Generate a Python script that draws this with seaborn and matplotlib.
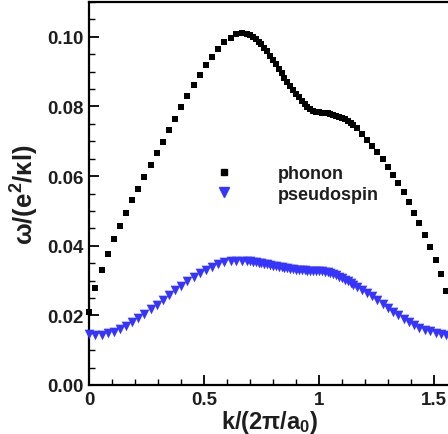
import numpy as np
import pandas as pd
import matplotlib
matplotlib.use("Agg")
import matplotlib.pyplot as plt
import seaborn as sns
from matplotlib.ticker import MultipleLocator, FixedLocator
from matplotlib.lines import Line2D

# ---- data ----
k_values = [
    0.000, 0.027, 0.055, 0.081, 0.109, 0.135, 0.162, 0.188, 0.214, 0.241,
    0.268, 0.294, 0.322, 0.348, 0.374, 0.401, 0.427, 0.455, 0.481, 0.507,
    0.535, 0.562, 0.588, 0.616, 0.640, 0.664, 0.685,
    0.700, 0.7125, 0.725, 0.7375, 0.750, 0.7625, 0.775, 0.7875, 0.800, 0.8125,
    0.825, 0.8375, 0.850, 0.8625, 0.875, 0.8875, 0.900, 0.9125, 0.925, 0.9375,
    0.950, 0.9625, 0.975, 0.9875, 1.000, 1.0125, 1.025, 1.0375, 1.050, 1.0625,
    1.075, 1.0875, 1.100, 1.1125, 1.125, 1.1375, 1.150,
    1.165, 1.187, 1.209, 1.232, 1.254, 1.277, 1.300, 1.323, 1.345, 1.370,
    1.391, 1.413, 1.437, 1.461, 1.484, 1.507, 1.530, 1.552,
]
phonon = [
    0.0211, 0.0278, 0.0331, 0.0376, 0.0419, 0.0457, 0.0494, 0.0530, 0.0563, 0.0597,
    0.0631, 0.0665, 0.0698, 0.0732, 0.0765, 0.0798, 0.0830, 0.0861, 0.0891, 0.0919,
    0.0943, 0.0966, 0.0984, 0.0998, 0.1007, 0.1010, 0.1009,
    0.1005, 0.1000, 0.0993, 0.0986, 0.0978, 0.0969, 0.0959, 0.0946, 0.0933, 0.0921,
    0.0908, 0.0896, 0.0883, 0.0871, 0.0858, 0.0846, 0.0836, 0.0826, 0.0816, 0.0807,
    0.0799, 0.0792, 0.0787, 0.0784, 0.0783, 0.0782, 0.0782, 0.0781, 0.0779, 0.0776,
    0.0773, 0.0770, 0.0767, 0.0764, 0.0759, 0.0753, 0.0746,
    0.0738, 0.0721, 0.0704, 0.0687, 0.0668, 0.0649, 0.0627, 0.0604, 0.0580, 0.0554,
    0.0525, 0.0494, 0.0464, 0.0431, 0.0397, 0.0359, 0.0318, 0.0269,
]
pseudospin = [
    0.0146, 0.0143, 0.0144, 0.0148, 0.0153, 0.0161, 0.0170, 0.0180, 0.0192, 0.0204,
    0.0217, 0.0231, 0.0244, 0.0259, 0.0273, 0.0285, 0.0298, 0.0310, 0.0321, 0.0330,
    0.0340, 0.0348, 0.0353, 0.0356, 0.0357, 0.0357, 0.0356,
    0.0355, 0.0354, 0.0352, 0.0351, 0.0350, 0.0348, 0.0347, 0.0345, 0.0343, 0.0341,
    0.0340, 0.0338, 0.0336, 0.0335, 0.0333, 0.0332, 0.0331, 0.0330, 0.0329, 0.0329,
    0.0328, 0.0328, 0.0328, 0.0327, 0.0327, 0.0326, 0.0325, 0.0324, 0.0322, 0.0319,
    0.0315, 0.0311, 0.0307, 0.0302, 0.0298, 0.0293, 0.0288,
    0.0282, 0.0274, 0.0265, 0.0255, 0.0245, 0.0234, 0.0222, 0.0211, 0.0201, 0.0190,
    0.0181, 0.0173, 0.0165, 0.0159, 0.0154, 0.0150, 0.0147, 0.0145,
]
x_ticks = [0, 0.5, 1, 1.5]
x_tick_labels = ["0", "0.5", "1", "1.5"]
y_ticks = [0.00, 0.02, 0.04, 0.06, 0.08, 0.10]
y_tick_labels = ["0.00", "0.02", "0.04", "0.06", "0.08", "0.10"]
series_names = ["phonon", "pseudospin"]

df = pd.concat([
    pd.DataFrame({"k": k_values, "w": phonon, "series": series_names[0]}),
    pd.DataFrame({"k": k_values, "w": pseudospin, "series": series_names[1]}),
])

# ---- style ----
sns.set_style("ticks")
plt.rcParams["font.family"] = ["Liberation Sans", "DejaVu Sans"]
plt.rcParams["font.weight"] = "bold"
plt.rcParams["mathtext.fontset"] = "custom"
plt.rcParams["mathtext.rm"] = "Liberation Sans:bold"
plt.rcParams["mathtext.it"] = "Liberation Sans:bold"
plt.rcParams["mathtext.bf"] = "Liberation Sans:bold"
plt.rcParams["mathtext.default"] = "rm"

TXT = "#1e1e1e"
BLUE = "#3535ff"

fig = plt.figure(figsize=(4.48, 4.35), dpi=100)
ax = fig.add_axes([89 / 448, 49 / 435, (450 - 89) / 448, (432 - 49) / 435])

sns.scatterplot(data=df[df.series == "phonon"], x="k", y="w", marker="s",
                color="black", s=24, linewidth=0, ax=ax, clip_on=False,
                legend=False, zorder=3)
sns.scatterplot(data=df[df.series == "pseudospin"], x="k", y="w", marker="v",
                color=BLUE, s=48, linewidth=0, ax=ax, clip_on=False,
                legend=False, zorder=3)

ax.set_xlim(0, 1.57)
ax.set_ylim(0, 0.11)
ax.xaxis.set_major_locator(FixedLocator(x_ticks))
ax.set_xticklabels(x_tick_labels)
ax.yaxis.set_major_locator(FixedLocator(y_ticks))
ax.set_yticklabels(y_tick_labels)
ax.xaxis.set_minor_locator(MultipleLocator(0.1))
ax.yaxis.set_minor_locator(MultipleLocator(0.005))
ax.tick_params(which="both", direction="in", top=False, right=False,
               colors="black", labelcolor=TXT, labelsize=13.5)
ax.tick_params(which="major", length=7, width=1.3, pad=4)
ax.tick_params(which="minor", length=4.3, width=1.0)
for lab in ax.get_xticklabels() + ax.get_yticklabels():
    lab.set_fontweight("bold")

for side in ["left", "bottom", "top", "right"]:
    ax.spines[side].set_visible(True)
    ax.spines[side].set_color("black")
    ax.spines[side].set_linewidth(1.6)

ax.set_xlabel("k/(2π/a$_0$)", fontsize=17, fontweight="bold", color=TXT, labelpad=0)
ax.set_ylabel("ω/(e$^2$/κl)", fontsize=18.5, fontweight="bold", color=TXT, labelpad=4)

handles = [
    Line2D([], [], linestyle="none", marker="s", color="black", markersize=4.8),
    Line2D([], [], linestyle="none", marker="v", color=BLUE, markersize=6.8),
]
leg = ax.legend(handles, series_names, frameon=False, loc="upper left",
                bbox_to_anchor=(197 / 448, 1 - 166 / 435),
                bbox_transform=fig.transFigure, borderpad=0, borderaxespad=0,
                handlelength=3.0, handletextpad=1.5, labelspacing=0.2,
                prop={"family": "Liberation Sans", "weight": "bold", "size": 13})
for t in leg.get_texts():
    t.set_color(TXT)

fig.savefig("out.png", dpi=100)
